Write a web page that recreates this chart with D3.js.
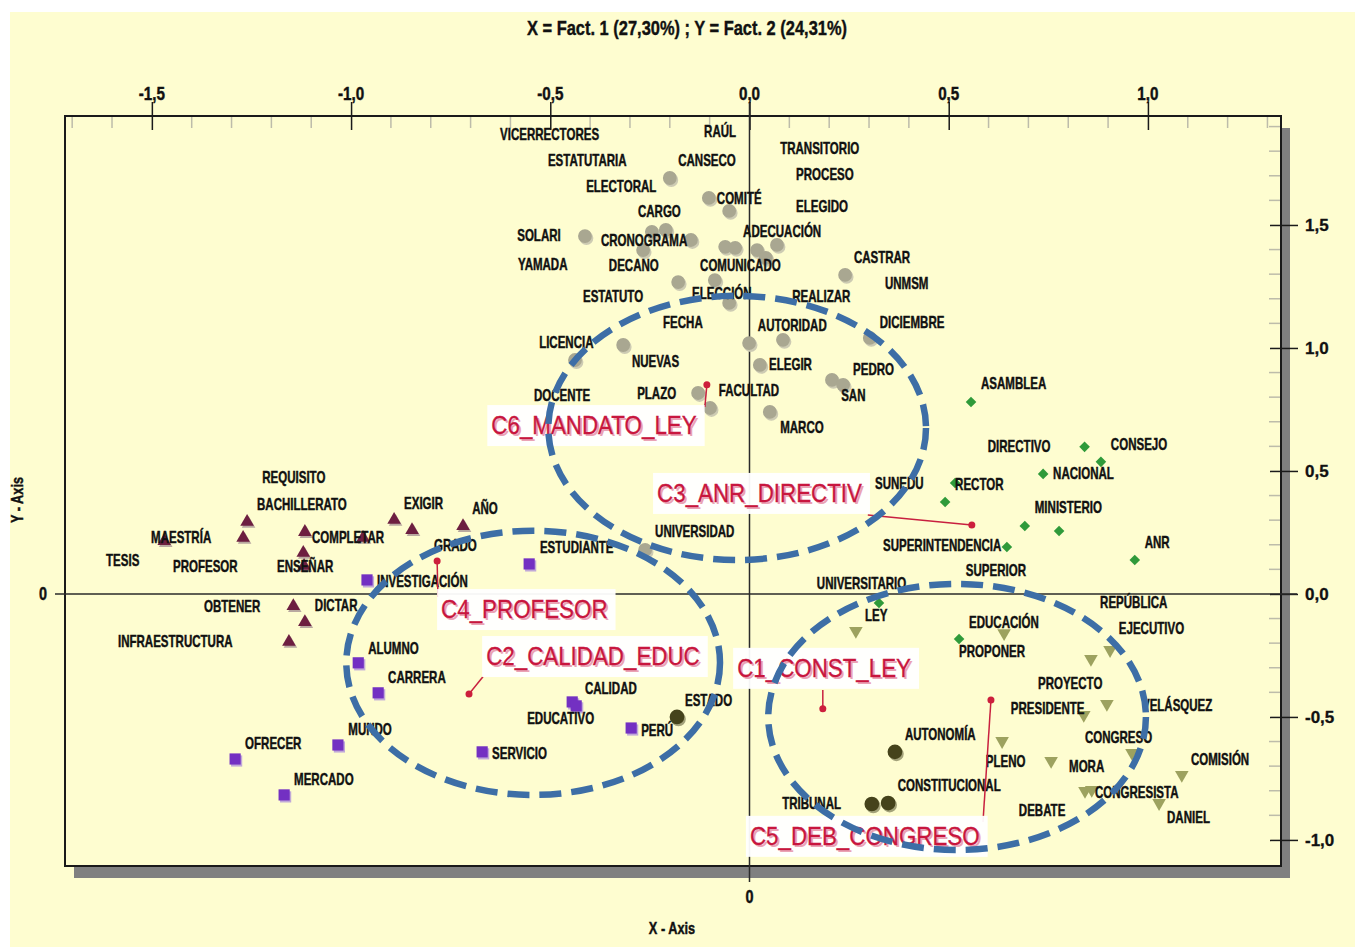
<!DOCTYPE html>
<html><head><meta charset="utf-8">
<script src="https://cdn.jsdelivr.net/npm/d3@7"></script>
<style>html,body{margin:0;padding:0;background:#fff;} svg{display:block}</style>
</head><body><svg id="chart" width="1355" height="947"></svg>
<script>
// ---------- DATA ----------
const chartTitle = "X = Fact. 1 (27,30%) ; Y = Fact. 2 (24,31%)";
const xAxisTitle = "X - Axis";
const yAxisTitle = "Y - Axis";
const xTicks = [-1.5, -1.0, -0.5, 0.0, 0.5, 1.0];
const yTicks = [-1.0, -0.5, 0.0, 0.5, 1.0, 1.5];
const xDomain = [-1.718, 1.334];
const yDomain = [-1.106, 1.943];

// grey circles (C6_MANDATO_LEY words)
const greyCircles = [
  [-0.200,1.691],[-0.102,1.610],[-0.051,1.557],[-0.413,1.455],[-0.245,1.472],[-0.210,1.480],
  [-0.147,1.439],[-0.267,1.398],[-0.061,1.411],[-0.036,1.407],[0.019,1.398],[0.041,1.366],
  [0.069,1.419],[-0.179,1.268],[-0.087,1.276],[0.240,1.297],[-0.051,1.183],[-0.317,1.012],
  [-0.438,0.951],[-0.001,1.020],[0.084,1.033],[0.302,1.041],[0.026,0.931],[0.207,0.870],
  [0.235,0.850],[-0.129,0.817],[-0.099,0.756],[0.051,0.740],[-0.262,0.179]
];
const greyLabels = [
  ["VICERRECTORES",-0.626,1.870],["RAÚL",-0.114,1.882],["ESTATUTARIA",-0.506,1.764],
  ["CANSECO",-0.179,1.764],["TRANSITORIO",0.077,1.813],["PROCESO",0.117,1.707],
  ["ELECTORAL",-0.410,1.659],["COMITÉ",-0.082,1.610],["ELEGIDO",0.117,1.577],
  ["CARGO",-0.280,1.557],["SOLARI",-0.583,1.459],["CRONOGRAMA",-0.373,1.439],
  ["ADECUACIÓN",-0.016,1.476],["YAMADA",-0.581,1.341],["DECANO",-0.353,1.337],
  ["COMUNICADO",-0.124,1.337],["CASTRAR",0.262,1.370],["UNMSM",0.340,1.264],
  ["ESTATUTO",-0.418,1.211],["ELECCIÓN",-0.144,1.224],["REALIZAR",0.107,1.211],
  ["FECHA",-0.217,1.106],["AUTORIDAD",0.021,1.093],["DICIEMBRE",0.327,1.106],
  ["LICENCIA",-0.528,1.024],["NUEVAS",-0.295,0.947],["ELEGIR",0.049,0.935],
  ["PEDRO",0.260,0.915],["DOCENTE",-0.541,0.809],["PLAZO",-0.282,0.817],
  ["FACULTAD",-0.077,0.829],["SAN",0.230,0.809],["MARCO",0.077,0.679],
  ["UNIVERSIDAD",-0.237,0.256]
];

// green diamonds (C3_ANR_DIRECTIV words)
const greenDiamonds = [
  [0.556,0.780],[0.841,0.598],[0.882,0.537],[0.737,0.488],[0.516,0.451],[0.491,0.374],
  [0.691,0.276],[0.777,0.256],[0.646,0.191],[0.967,0.138],[0.325,-0.037],[0.526,-0.183]
];
const greenLabels = [
  ["ASAMBLEA",0.581,0.858],["DIRECTIVO",0.598,0.602],["CONSEJO",0.907,0.610],
  ["NACIONAL",0.762,0.492],["SUNEDU",0.315,0.451],["RECTOR",0.516,0.447],
  ["MINISTERIO",0.716,0.354],["SUPERINTENDENCIA",0.335,0.199],["ANR",0.992,0.211],
  ["SUPERIOR",0.543,0.098],["UNIVERSITARIO",0.169,0.045],["REPÚBLICA",0.880,-0.033],
  ["EJECUTIVO",0.927,-0.138],["EDUCACIÓN",0.551,-0.114],["PROPONER",0.526,-0.232]
];

// maroon triangles (C4_PROFESOR words)
const maroonTriangles = [
  [-1.261,0.293],[-1.271,0.228],[-1.116,0.252],[-1.469,0.215],[-1.120,0.167],[-1.118,0.114],
  [-0.892,0.301],[-0.847,0.260],[-0.719,0.276],[-0.970,0.228],[-1.145,-0.049],[-1.116,-0.114],
  [-1.156,-0.195]
];
const maroonLabels = [
  ["REQUISITO",-1.223,0.476],["BACHILLERATO",-1.236,0.366],["EXIGIR",-0.867,0.370],
  ["AÑO",-0.696,0.350],["MAESTRÍA",-1.502,0.232],["COMPLETAR",-1.098,0.232],
  ["GRADO",-0.792,0.199],["TESIS",-1.615,0.138],["PROFESOR",-1.447,0.114],
  ["ENSEÑAR",-1.186,0.114],["OBTENER",-1.369,-0.049],["DICTAR",-1.091,-0.045],
  ["INFRAESTRUCTURA",-1.585,-0.191]
];

// purple squares (C2_CALIDAD_EDUC words)
const purpleSquares = [
  [-0.960,0.057],[-0.553,0.122],[-0.982,-0.280],[-0.932,-0.402],[-0.445,-0.439],[-0.435,-0.455],
  [-0.297,-0.545],[-1.033,-0.614],[-1.291,-0.671],[-0.671,-0.642],[-1.168,-0.817]
];
const purpleLabels = [
  ["INVESTIGACIÓN",-0.935,0.053],["ESTUDIANTE",-0.526,0.191],["ALUMNO",-0.957,-0.220],
  ["CARRERA",-0.907,-0.337],["CALIDAD",-0.413,-0.382],["EDUCATIVO",-0.558,-0.504],
  ["PERÚ",-0.272,-0.553],["MUNDO",-1.007,-0.549],["OFRECER",-1.266,-0.606],
  ["SERVICIO",-0.646,-0.646],["MERCADO",-1.143,-0.752]
];

// dark olive circles (C1_CONST_LEY words)
const darkCircles = [[-0.182,-0.500],[0.365,-0.642],[0.307,-0.854],[0.348,-0.850]];

// olive down-triangles (C5_DEB_CONGRESO words)
const oliveTriangles = [
  [0.267,-0.150],[0.639,-0.159],[0.857,-0.264],[0.897,-0.447],[0.839,-0.492],[0.905,-0.228],
  [0.634,-0.598],[0.757,-0.679],[0.960,-0.646],[0.842,-0.801],[0.859,-0.797],[1.085,-0.736],
  [1.028,-0.850]
];
const oliveLabels = [
  ["ESTADO",-0.162,-0.431],["LEY",0.290,-0.085],["PROYECTO",0.724,-0.362],
  ["PRESIDENTE",0.656,-0.463],["VELÁSQUEZ",0.985,-0.451],["AUTONOMÍA",0.390,-0.569],
  ["CONGRESO",0.842,-0.581],["COMISIÓN",1.108,-0.671],["PLENO",0.593,-0.679],
  ["MORA",0.802,-0.699],["CONSTITUCIONAL",0.372,-0.776],["CONGRESISTA",0.867,-0.805],
  ["TRIBUNAL",0.082,-0.850],["DEBATE",0.676,-0.878],["DANIEL",1.048,-0.907]
];

// cluster centroids: name, centroid x,y, leader end x,y, label x,y (baseline-left)
const centroids = [
  ["C6_MANDATO_LEY", -0.107, 0.850, -0.112, 0.760, -0.648, 0.650],
  ["C3_ANR_DIRECTIV", 0.558, 0.280, 0.297, 0.321, -0.232, 0.374],
  ["C4_PROFESOR", -0.784, 0.134, -0.782, -0.012, -0.774, -0.098],
  ["C2_CALIDAD_EDUC", -0.704, -0.407, -0.669, -0.337, -0.661, -0.289],
  ["C1_CONST_LEY", 0.184, -0.467, 0.184, -0.390, -0.031, -0.337],
  ["C5_DEB_CONGRESO", 0.606, -0.431, 0.586, -0.927, 0.001, -1.020]
];

// dashed ellipses: center x, center y, radius x, radius y (data units)
const ellipses = [
  [-0.031, 0.675, 0.474, 0.537],
  [-0.543, -0.280, 0.469, 0.537],
  [0.521, -0.500, 0.474, 0.541]
];

// ---------- DRAW ----------
const svg = d3.select("#chart");
const W = 1355, H = 947;
const L = 65, T = 116, R = 1281, B = 866;
const x = d3.scaleLinear().domain(xDomain).range([L, R]);
const y = d3.scaleLinear().domain(yDomain).range([B, T]);
const fmt = v => d3.format(".1f")(v).replace(".", ",").replace("\u2212", "-");
const FONT = "'Liberation Sans', Arial, sans-serif";

function ctext(sel, px, py, s, o = {}) {
  return sel.append("text")
    .attr("transform", `translate(${px},${py}) scale(${o.sx || 1},1)`)
    .attr("text-anchor", o.anchor || "start")
    .attr("dy", o.dy || "0.36em")
    .style("font-family", o.family || FONT)
    .style("font-weight", o.weight || "bold")
    .style("font-size", (o.size || 16) + "px")
    .attr("fill", o.fill || "#111")
    .attr("stroke", o.fill || "#111")
    .attr("stroke-width", o.sw == null ? 0.45 : o.sw)
    .text(s);
}

// backgrounds
svg.append("rect").attr("x", 0).attr("y", 0).attr("width", W).attr("height", H).attr("fill", "#fff");
svg.append("rect").attr("x", 10).attr("y", 12).attr("width", W - 10).attr("height", H - 12).attr("fill", "#FEFDD0");

// frame shadow and frame
svg.append("rect").attr("x", L + 9).attr("y", T + 12).attr("width", R - L).attr("height", B - T).attr("fill", "#808080");
svg.append("rect").attr("x", L).attr("y", T).attr("width", R - L).attr("height", B - T)
  .attr("fill", "#FEFDD0").attr("stroke", "#1a1a1a").attr("stroke-width", 2);

// title
svg.append("text").attr("x", 527).attr("y", 35).attr("textLength", 320).attr("lengthAdjust", "spacingAndGlyphs")
  .style("font-family", FONT).style("font-weight", "bold").style("font-size", "20px").attr("fill", "#111")
  .attr("stroke", "#111").attr("stroke-width", 0.4)
  .text(chartTitle);

// minor ticks
const g = svg.append("g");
const minorX = d3.range(-17, 14).map(i => i / 10).filter(v => Math.abs(v * 2 - Math.round(v * 2)) > 1e-6);
g.selectAll(".mx").data(minorX).enter().append("line")
  .attr("x1", d => x(d)).attr("x2", d => x(d)).attr("y1", T + 1).attr("y2", T + 12)
  .attr("stroke", "#bdbcaa").attr("stroke-width", 1.5);
const minorY = d3.range(-10, 20).map(i => i / 10).filter(v => Math.abs(v * 2 - Math.round(v * 2)) > 1e-6);
g.selectAll(".my").data(minorY).enter().append("line")
  .attr("y1", d => y(d)).attr("y2", d => y(d)).attr("x1", R - 12).attr("x2", R - 1)
  .attr("stroke", "#bdbcaa").attr("stroke-width", 1.5);

// top axis
const topAxis = d3.axisTop(x).tickValues(xTicks).tickSize(14).tickPadding(3).tickFormat(fmt);
const ta = svg.append("g").attr("transform", `translate(0,${T})`).call(topAxis);
ta.select(".domain").remove();
ta.selectAll(".tick line").attr("y1", 14).attr("y2", -14).attr("stroke", "#1a1a1a").attr("stroke-width", 1.5);
ta.selectAll(".tick text").remove();
xTicks.forEach(v => ctext(svg, x(v), 93, fmt(v), { size: 19, sx: 0.8, anchor: "middle" }));

// right axis
const rightAxis = d3.axisRight(y).tickValues(yTicks).tickSize(17).tickPadding(7).tickFormat(fmt);
const ra = svg.append("g").attr("transform", `translate(${R},0)`).call(rightAxis);
ra.select(".domain").remove();
ra.selectAll(".tick line").attr("x1", -11).attr("x2", 17).attr("stroke", "#1a1a1a").attr("stroke-width", 1.5);
ra.selectAll(".tick text").style("font-family", FONT).style("font-weight", "bold").style("font-size", "17px")
  .attr("fill", "#111").attr("stroke", "#111").attr("stroke-width", 0.3);

// zero lines
svg.append("line").attr("x1", 55).attr("x2", R + 16).attr("y1", y(0)).attr("y2", y(0)).attr("stroke", "#2a2a2a").attr("stroke-width", 1.5);
svg.append("line").attr("x1", x(0)).attr("x2", x(0)).attr("y1", T - 13).attr("y2", B + 16).attr("stroke", "#2a2a2a").attr("stroke-width", 1.5);
ctext(svg, 43, y(0), "0", { size: 18, sx: 0.8, anchor: "middle" });
ctext(svg, x(0), 897, "0", { size: 18, sx: 0.8, anchor: "middle" });

// axis titles
ctext(svg, 672, 928, xAxisTitle, { size: 17, sx: 0.75, anchor: "middle" });
svg.append("text").attr("transform", "translate(17,500) rotate(-90) scale(0.75,1)")
  .attr("text-anchor", "middle").attr("dy", "0.36em")
  .style("font-family", FONT).style("font-weight", "bold").style("font-size", "17px").attr("fill", "#111")
  .attr("stroke", "#111").attr("stroke-width", 0.45)
  .text(yAxisTitle);

// markers
const pts = svg.append("g");
function marks(data, type, size, fill, rot, shadow) {
  const sym = d3.symbol().type(type).size(size)();
  if (shadow) {
    pts.selectAll(null).data(data).enter().append("path").attr("d", sym)
      .attr("transform", d => `translate(${x(d[0]) + 1.5},${y(d[1]) + 2}) rotate(${rot})`)
      .attr("fill", shadow);
  }
  pts.selectAll(null).data(data).enter().append("path").attr("d", sym)
    .attr("transform", d => `translate(${x(d[0])},${y(d[1])}) rotate(${rot})`)
    .attr("fill", fill);
}
marks(greyCircles, d3.symbolCircle, 150, "#a9a791", 0, "#cdcbb3");
marks(greenDiamonds, d3.symbolSquare, 56, "#2f9a3a", 45, null);
marks(maroonTriangles, d3.symbolTriangle, 80, "#6d1f40", 0, "#b9a9a0");
marks(purpleSquares, d3.symbolSquare, 125, "#7330c2", 0, "#c0a8d8");
marks(darkCircles, d3.symbolCircle, 170, "#45431b", 0, "#a3a27a");
marks(oliveTriangles, d3.symbolTriangle, 80, "#9da25f", 180, null);

// word labels
const labs = svg.append("g");
[greyLabels, greenLabels, maroonLabels, purpleLabels, oliveLabels].forEach(arr => {
  arr.forEach(d => ctext(labs, x(d[1]), y(d[2]), d[0], { size: 16, sx: 0.72 }));
});

// centroids
const cg = svg.append("g");
centroids.forEach(c => {
  cg.append("line").attr("x1", x(c[1])).attr("y1", y(c[2])).attr("x2", x(c[3])).attr("y2", y(c[4]))
    .attr("stroke", "#c8203f").attr("stroke-width", 1.5);
  cg.append("circle").attr("cx", x(c[1])).attr("cy", y(c[2])).attr("r", 3.5).attr("fill", "#cc1f3c");
});

// cluster labels
const SX = 0.86;
centroids.forEach(c => {
  const lg = svg.append("g").attr("transform", `translate(${x(c[5])},${y(c[6])})`);
  const box = lg.append("rect").attr("fill", "#ffffff").attr("opacity", 0.95);
  lg.append("text").attr("transform", `translate(2,2) scale(${SX},1)`)
    .style("font-family", FONT).style("font-size", "26px").attr("fill", "#eaa3b5").text(c[0]);
  const tx = lg.append("text").attr("transform", `scale(${SX},1)`)
    .style("font-family", FONT).style("font-size", "26px").attr("fill", "#c8163e")
    .attr("stroke", "#c8163e").attr("stroke-width", 0.3).text(c[0]);
  const w = tx.node().getComputedTextLength() * SX;
  box.attr("x", -4).attr("y", -29).attr("width", w + 12).attr("height", 41);
});

// dashed ellipses
svg.append("g").selectAll("ellipse").data(ellipses).enter().append("ellipse")
  .attr("cx", d => x(d[0])).attr("cy", d => y(d[1]))
  .attr("rx", d => x(d[0] + d[2]) - x(d[0])).attr("ry", d => y(d[1]) - y(d[1] + d[3]))
  .attr("fill", "none").attr("stroke", "#3d6ea6").attr("stroke-width", 6.5)
  .attr("stroke-dasharray", "22,10");
</script>
</body></html>
